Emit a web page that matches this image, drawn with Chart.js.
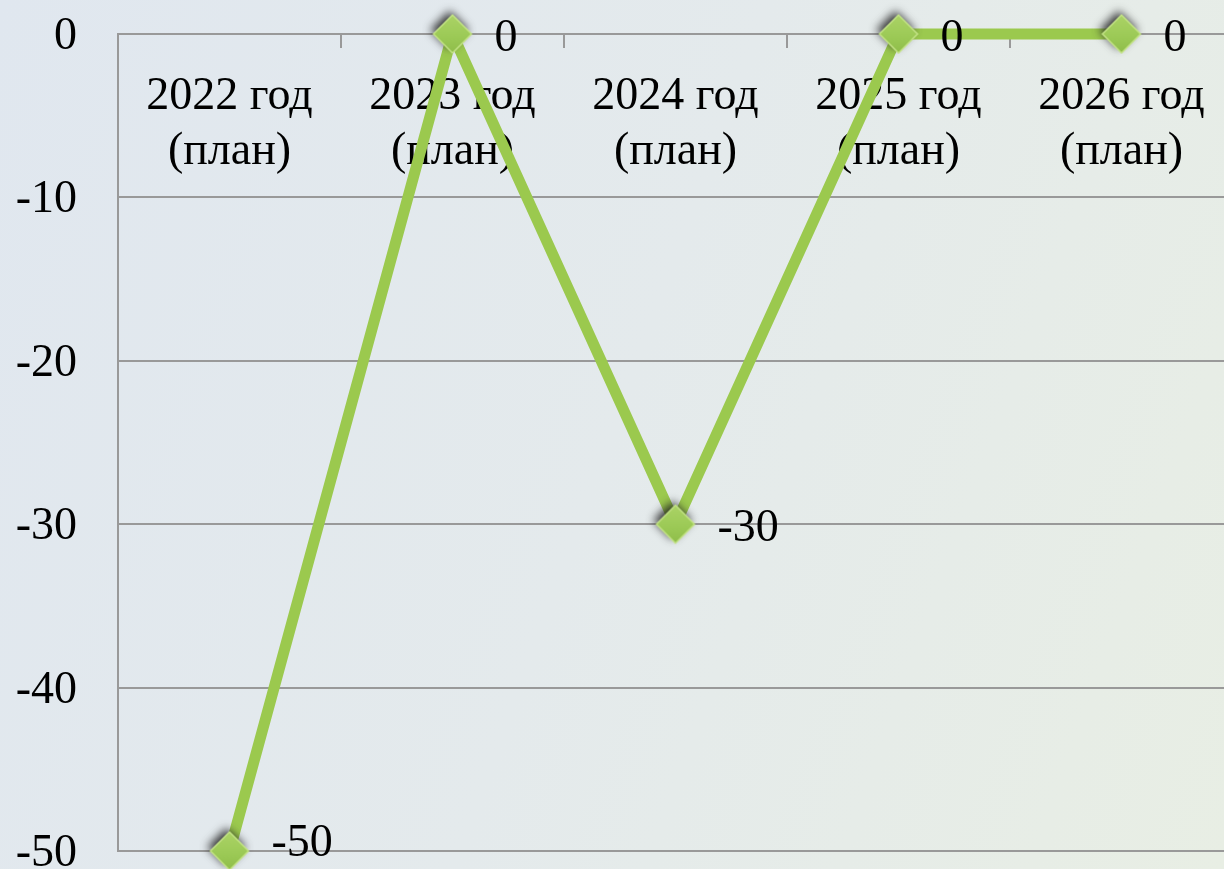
<!DOCTYPE html>
<html lang="ru">
<head>
    <meta charset="UTF-8">
    <title>План</title>
    <script src="https://cdn.jsdelivr.net/npm/chart.js"></script>
    <style>
        html, body {
            margin: 0;
            padding: 0;
            width: 1224px;
            height: 869px;
            overflow: hidden;
            background: linear-gradient(110deg, #e0e7ef 0%, #e4eaec 50%, #e8eee4 100%);
        }
        .wrap {
            position: absolute;
            left: 0;
            top: 0;
            width: 1234px;
            height: 869px;
        }
    </style>
</head>
<body>
    <div class="wrap"><canvas id="lineChart"></canvas></div>
    <script>
    // данные
    const categories = [
        ['2022 год', '(план)'],
        ['2023 год', '(план)'],
        ['2024 год', '(план)'],
        ['2025 год', '(план)'],
        ['2026 год', '(план)']
    ];
    const values = [-50, 0, -30, 0, 0];
    const yMin = -50, yMax = 0, yStep = 10;

    const FONT = { family: "'Liberation Serif', 'Times New Roman', serif", size: 46, lineHeight: 1.2 };
    const GRID = '#999999';

    // ромб-маркер с тенью
    function makeDiamond() {
        const c = document.createElement('canvas');
        c.width = 64; c.height = 64;
        const g = c.getContext('2d');
        const cx = 32, cy = 32, r = 19;
        const path = () => {
            g.beginPath();
            g.moveTo(cx, cy - r); g.lineTo(cx + r, cy); g.lineTo(cx, cy + r); g.lineTo(cx - r, cy);
            g.closePath();
        };
        g.save();
        g.shadowColor = 'rgba(30,30,30,0.9)';
        g.shadowBlur = 10;
        g.shadowOffsetX = -3;
        g.shadowOffsetY = -4;
        path();
        const grad = g.createLinearGradient(cx, cy - r, cx, cy + r);
        grad.addColorStop(0, '#abd366');
        grad.addColorStop(0.6, '#9bc955');
        grad.addColorStop(1, '#8fbd4a');
        g.fillStyle = grad;
        g.fill();
        g.restore();
        path();
        g.strokeStyle = '#c2e285';
        g.lineWidth = 1.5;
        g.stroke();
        return c;
    }

    const valueLabels = {
        id: 'valueLabels',
        afterDatasetsDraw(chart) {
            const ctx = chart.ctx;
            const area = chart.chartArea;
            const meta = chart.getDatasetMeta(0);
            ctx.save();
            ctx.font = `${FONT.size}px ${FONT.family}`;
            ctx.fillStyle = '#000';
            ctx.textAlign = 'left';
            ctx.textBaseline = 'alphabetic';
            meta.data.forEach((p, i) => {
                const y = Math.min(p.y + 17, area.bottom + 5);
                ctx.fillText(String(values[i]), p.x + 42, y);
            });
            ctx.restore();
        }
    };

    const ctx = document.getElementById('lineChart').getContext('2d');
    new Chart(ctx, {
        type: 'line',
        data: {
            labels: categories,
            datasets: [{
                data: values,
                borderColor: '#9bc94e',
                borderWidth: 11,
                borderJoinStyle: 'round',
                borderCapStyle: 'round',
                tension: 0,
                pointStyle: makeDiamond(),
                pointRadius: 1,
                pointHoverRadius: 1,
                pointBorderWidth: 0,
                clip: false
            }]
        },
        options: {
            responsive: true,
            maintainAspectRatio: false,
            animation: false,
            layout: { padding: { top: 34, bottom: 18, left: 0, right: 0 } },
            plugins: {
                legend: { display: false },
                tooltip: { enabled: false }
            },
            scales: {
                x: {
                    position: { y: 0 },
                    offset: true,
                    grid: {
                        display: true,
                        drawOnChartArea: false,
                        drawTicks: true,
                        tickLength: 13,
                        offset: true,
                        color: GRID,
                        lineWidth: 2
                    },
                    border: { display: true, color: GRID, width: 2 },
                    ticks: {
                        color: '#000',
                        font: FONT,
                        padding: 22,
                        maxRotation: 0,
                        autoSkip: false
                    },
                    afterFit: s => { s.height = 0; s.paddingLeft = 0; s.paddingRight = 0; }
                },
                y: {
                    min: yMin,
                    max: yMax,
                    ticks: {
                        stepSize: yStep,
                        color: '#000',
                        font: FONT,
                        padding: 41,
                        labelOffset: 3
                    },
                    grid: { color: GRID, lineWidth: 2, drawTicks: false },
                    border: { display: true, color: GRID, width: 2 },
                    afterFit: s => { s.width = 118; s.paddingTop = 0; s.paddingBottom = 0; }
                }
            }
        },
        plugins: [valueLabels]
    });
    </script>
</body>
</html>
